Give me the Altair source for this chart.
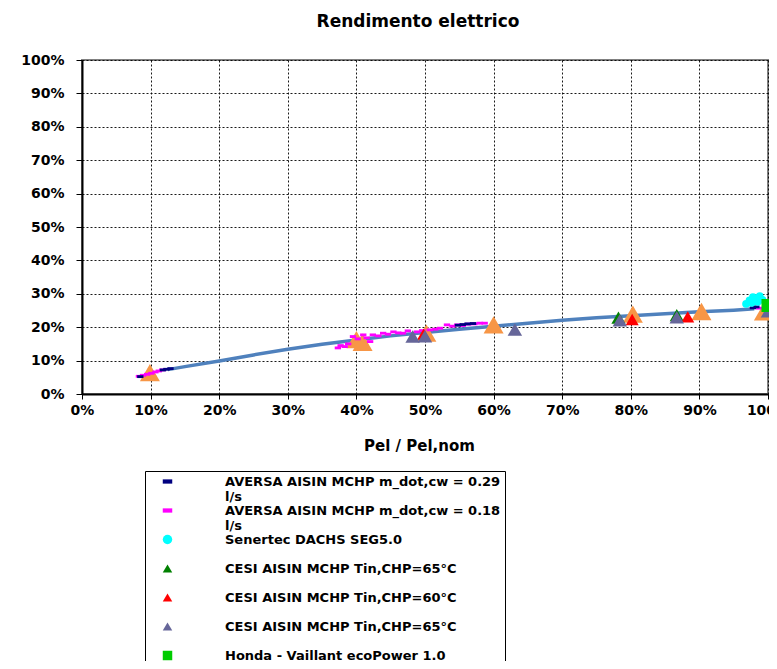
import altair as alt
import pandas as pd

# ---- series names (legend order) ----
S1 = "AVERSA AISIN MCHP m_dot,cw = 0.29|l/s"
S2 = "AVERSA AISIN MCHP m_dot,cw = 0.18|l/s"
S3 = "Senertec DACHS SEG5.0"
S4 = "CESI AISIN MCHP Tin,CHP=65°C"
S5 = "CESI AISIN MCHP Tin,CHP=60°C"
S6 = "CESI AISIN MCHP Tin,CHP=65°C "
S7 = "Honda - Vaillant ecoPower 1.0"
S8 = "CESI AISIN MCHP (altre prove)"

# ---- data (percent) ----
orange_x = [9.9, 40.0, 40.9, 50.2, 60.0, 80.3, 90.3, 99.4]
orange_y = [6.4, 16.3, 15.5, 18.2, 20.7, 23.9, 24.7, 24.6]

mag_x = [8.3, 8.9, 9.5, 10.1, 10.7, 11.2, 11.7,
         37.3, 37.7, 38.3, 38.8, 39.5, 40.2, 41.0, 41.5, 42.0, 42.4, 43.2,
         43.9, 44.6, 45.4, 46.1, 46.8, 47.5, 48.8, 49.6, 50.7, 51.5, 52.2,
         53.2, 54.0, 54.7, 55.5, 56.3, 57.2, 58.0, 58.7, 98.7]
mag_y = [5.3, 5.6, 5.9, 6.2, 6.6, 6.9, 7.2,
         13.8, 14.5, 14.2, 15.0, 17.2, 16.5, 17.7, 16.8, 15.7, 17.7, 17.4,
         18.2, 17.9, 18.6, 18.3, 18.2, 18.9, 18.6, 19.0, 19.2, 19.4, 19.7,
         20.7, 20.3, 20.7, 20.5, 20.9, 21.0, 21.2, 21.2, 25.7]

blue_x = [8.5, 11.8, 12.3, 12.9, 54.8, 55.5, 56.2, 57.0, 97.8, 98.3]
blue_y = [5.2, 7.2, 7.4, 7.6, 20.6, 20.8, 21.0, 21.1, 25.8, 26.1]

cyan_x = [96.8, 97.3, 97.8, 98.3, 98.8, 99.2, 97.6, 98.5]
cyan_y = [27.0, 28.0, 29.0, 28.6, 29.3, 28.2, 27.3, 27.6]

green_x = [78.2, 86.7]
green_y = [22.9, 23.6]

red_x = [49.8, 80.2, 88.3]
red_y = [17.9, 22.3, 23.1]

purple_x = [48.2, 50.0, 63.1, 78.4, 86.7, 100.0]
purple_y = [17.2, 17.3, 19.3, 22.1, 23.0, 24.8]

honda_x = [100.0]
honda_y = [26.5]

fit_x = [12.5, 15, 20, 25, 30, 35, 40, 45, 50, 55, 60, 65, 70, 75, 80, 85, 90, 95, 98]
fit_y = [7.3, 8.2, 9.9, 11.7, 13.4, 14.9, 16.2, 17.4, 18.4, 19.4, 20.3, 21.2,
         22.1, 22.8, 23.4, 24.0, 24.6, 25.1, 25.5]

ticks = [0, 10, 20, 30, 40, 50, 60, 70, 80, 90, 100]

# ---- styling per series ----
dash = "M-1,-0.45L1,-0.45L1,0.45L-1,0.45Z"
domain = [S1, S2, S3, S4, S5, S6, S7, S8]
colors = ["#000080", "#FF00FF", "#00FFFF", "#008000", "#FF0000", "#666699", "#00CC00", "#F79646"]
shapes = [dash, dash, "circle", "triangle-up", "triangle-up", "triangle-up", "square", "triangle-up"]
sizes = [40, 40, 60, 200, 170, 210, 170, 400]
size_map = dict(zip(domain, sizes))

# ---- build tables ----
rows = []
for name, xs_, ys_ in [(S8, orange_x, orange_y), (S2, mag_x, mag_y), (S1, blue_x, blue_y),
                       (S3, cyan_x, cyan_y), (S4, green_x, green_y), (S5, red_x, red_y),
                       (S6, purple_x, purple_y), (S7, honda_x, honda_y)]:
    for x, y in zip(xs_, ys_):
        rows.append({"x": x, "y": y, "serie": name, "sz": size_map[name]})
pts = pd.DataFrame(rows)
fit = pd.DataFrame({"x": fit_x, "y": fit_y})

FONT = "DejaVu Sans"

legend = alt.Legend(
    title=None, orient="none", legendX=63, legendY=411,
    values=[S1, S2, S3, S4, S5, S6, S7],
    labelExpr="split(datum.label, '|')",
    labelFont=FONT, labelFontSize=13, labelFontWeight="bold", labelColor="black",
    labelLimit=600, strokeColor="black", fillColor="white", padding=4,
    symbolOffset=12, labelOffset=51, rowPadding=0, gridAlign="all",
    symbolSize=90, symbolStrokeWidth=0,
)

xs = alt.Scale(domain=[0, 100], nice=False)
ys = alt.Scale(domain=[0, 100], nice=False)

xaxis = alt.Axis(values=ticks, labelExpr="datum.value + '%'", title="Pel / Pel,nom",
                 titleFont=FONT, titleFontSize=15, titleFontWeight="bold", titleColor="black",
                 titlePadding=21, titleX=337, titleAlign="center",
                 labelPadding=4, tickSize=5, labelFlush=False)
yaxis = alt.Axis(values=ticks, labelExpr="datum.value + '%'", title=None,
                 tickSize=6, labelPadding=12)

line = alt.Chart(fit).mark_line(color="#4F81BD", strokeWidth=3.5).encode(
    x=alt.X("x:Q", scale=xs, axis=xaxis),
    y=alt.Y("y:Q", scale=ys, axis=yaxis),
)

points = alt.Chart(pts).mark_point(filled=True, opacity=1, strokeWidth=0).encode(
    x=alt.X("x:Q", scale=xs, axis=xaxis),
    y=alt.Y("y:Q", scale=ys, axis=yaxis),
    color=alt.Color("serie:N", scale=alt.Scale(domain=domain, range=colors), legend=legend),
    shape=alt.Shape("serie:N", scale=alt.Scale(domain=domain, range=shapes), legend=legend),
    size=alt.Size("sz:Q", scale=None),
)

chart = alt.layer(line, points).properties(
    width=686, height=334,
    background="white",
    autosize=alt.AutoSizeParams(type="none"),
    padding={"left": 74, "top": 52, "right": 1, "bottom": 267},
    title=alt.Title("Rendimento elettrico", font=FONT, fontSize=17, fontWeight="bold",
                    color="black", offset=22, dx=-7, anchor="middle"),
).configure_view(
    stroke="#808080", strokeWidth=2
).configure_axis(
    domainColor="black", domainWidth=2, gridColor="black", gridDash=[2, 2], gridWidth=1,
    gridOpacity=0.9, tickColor="black", labelFont=FONT, labelFontSize=14,
    labelFontWeight="bold", labelColor="black",
)

chart.save("out.html", embed_options={"renderer": "svg", "actions": False})
